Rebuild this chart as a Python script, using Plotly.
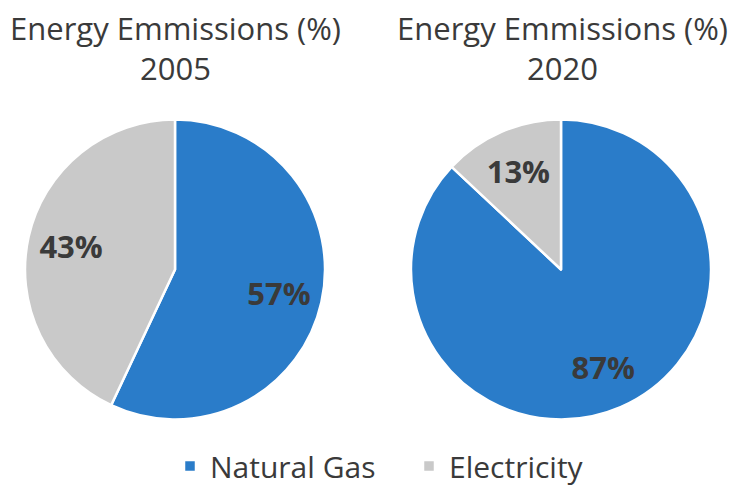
import plotly.graph_objects as go

categories = ["Natural Gas", "Electricity"]
values_2005 = [57, 43]
values_2020 = [87, 13]
years = ["2005", "2020"]
title_text = "Energy Emmissions (%)"
colors = ["#2A7CC9", "#C9C9C9"]

W, H = 731, 488

def px(x):
    return x / W

def py(y):
    return 1 - y / H

def dom(x0, x1, ytop, ybot):
    return dict(x=[px(x0), px(x1)], y=[py(ybot), py(ytop)])

TXT = "#3a3a3a"

fig = go.Figure()
for vals, d, show in [(values_2005, dom(25, 325, 119, 420), True),
                      (values_2020, dom(411, 711, 119, 420), False)]:
    # filled slices
    fig.add_trace(go.Pie(
        labels=categories, values=vals, sort=False, direction="clockwise",
        rotation=0, domain=d, showlegend=show, textinfo="none",
        marker=dict(colors=colors, line=dict(color="white", width=2.5)),
    ))
    # percentage labels, placed in the outer ring
    fig.add_trace(go.Pie(
        labels=categories, values=vals, sort=False, direction="clockwise",
        rotation=0, domain=d, showlegend=False, hole=0.42, hoverinfo="skip",
        marker=dict(colors=["rgba(0,0,0,0)"] * 2, line=dict(width=0)),
        texttemplate="%{value}%",
        textposition="inside", insidetextorientation="horizontal",
        textfont=dict(family="Open Sans", size=31, color=TXT, weight="bold"),
    ))

for xc, yr in [(175, years[0]), (562, years[1])]:
    fig.add_annotation(x=px(xc), y=py(28), xref="paper", yref="paper",
                       xanchor="center", yanchor="middle",
                       text=title_text, showarrow=False,
                       font=dict(family="Open Sans", size=31, color=TXT))
    fig.add_annotation(x=px(xc), y=py(68), xref="paper", yref="paper",
                       xanchor="center", yanchor="middle",
                       text=yr, showarrow=False,
                       font=dict(family="Open Sans", size=31, color=TXT))

fig.update_layout(
    width=W, height=H, margin=dict(l=0, r=0, t=0, b=0, autoexpand=False),
    paper_bgcolor="white", plot_bgcolor="white",
    legend=dict(orientation="h", x=px(170), xanchor="left", y=py(466), yanchor="middle",
                font=dict(family="Open Sans", size=30, color=TXT),
                entrywidth=194, entrywidthmode="pixels",
                traceorder="normal"),
)

fig.write_html(
    "out.html",
    config={"displayModeBar": False},
    post_script="document.body.style.margin='0';document.body.style.padding='0';",
)
